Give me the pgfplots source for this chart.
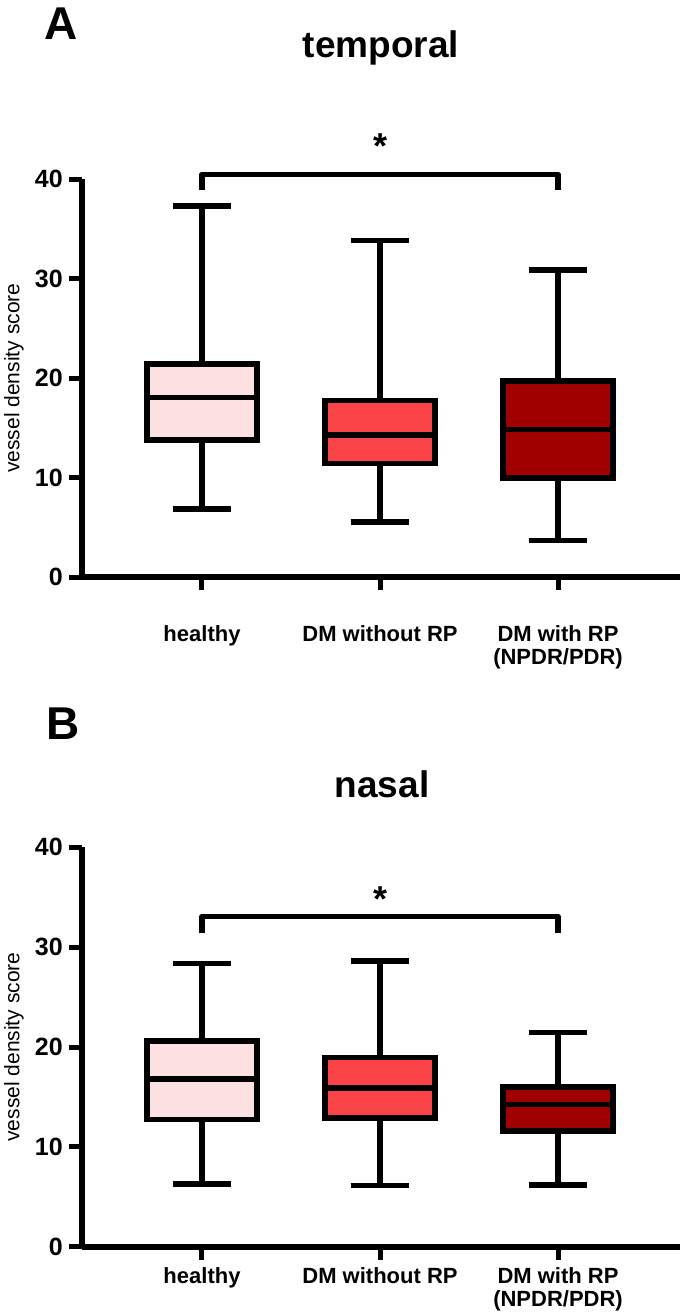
\documentclass[border=0pt]{standalone}
\usepackage{pgfplots}
\pgfplotsset{compat=1.18}
\usepgfplotslibrary{statistics}
\usepackage{fontspec}
\setmainfont{Liberation Sans}
\definecolor{cHealthy}{HTML}{FDE0E1}
\definecolor{cWithout}{HTML}{F94346}
\definecolor{cWith}{HTML}{A00000}
\pgfplotsset{
  panel/.style={
    scale only axis, width=598pt,
    xmin=0.326, xmax=3.685, ymin=0, ymax=40,
    axis lines=left,
    axis line style={-, line width=6pt, black},
    xtick={1,2,3}, ytick={0,10,20,30,40},
    tick align=outside, major tick length=13pt,
    every tick/.style={black, line width=5pt},
    /pgf/number format/assume math mode=true,
    yticklabel style={font=\fontsize{25}{25}\selectfont\bfseries, inner sep=0pt, anchor=east, xshift=-6pt},
    xticklabels={healthy, DM without RP, {DM with RP\\(NPDR/PDR)}},
    ylabel={vessel density score},
    every axis y label/.style={at={(axis description cs:-0.114,0.5)}, rotate=90, anchor=center, font=\fontsize{21}{21}\selectfont},
    clip=false,
    boxplot/draw direction=y,
  },
  bx/.style={line width=5.5pt, draw=black, solid, mark=none},
}
\begin{document}
\begin{tikzpicture}
\useasboundingbox (0pt,0pt) rectangle (686pt,-1316pt);
\node[anchor=base west, font=\fontsize{46}{46}\selectfont\bfseries, inner sep=0pt] at (44pt,-40pt) {A};
\node[anchor=base, font=\fontsize{37}{37}\selectfont\bfseries, inner sep=0pt] at (381pt,-58pt) {temporal};
\node[anchor=base west, font=\fontsize{46}{46}\selectfont\bfseries, inner sep=0pt] at (46pt,-739pt) {B};
\node[anchor=base, font=\fontsize{37}{37}\selectfont\bfseries, inner sep=0pt] at (382pt,-797pt) {nasal};

\begin{axis}[panel, at={(82pt,-577pt)}, anchor=south west, height=397.7pt,
  xticklabel style={font=\fontsize{22}{23}\selectfont\bfseries, align=center, anchor=north, inner sep=0pt, yshift=-35pt}]
\addplot[bx, fill=cHealthy, boxplot prepared={draw position=1, lower whisker=6.85, lower quartile=13.76, median=18.05, upper quartile=21.41, upper whisker=37.3, box extend=0.62, whisker extend=0.33}] coordinates {};
\addplot[bx, fill=cWithout, boxplot prepared={draw position=2, lower whisker=5.54, lower quartile=11.41, median=14.26, upper quartile=17.75, upper whisker=33.86, box extend=0.62, whisker extend=0.33}] coordinates {};
\addplot[bx, fill=cWith, boxplot prepared={draw position=3, lower whisker=3.69, lower quartile=9.97, median=14.83, upper quartile=19.73, upper whisker=30.9, box extend=0.62, whisker extend=0.33}] coordinates {};
\draw[line width=5.5pt, line join=round] (axis cs:1,38.9) -- (axis cs:1,40.5) -- (axis cs:3,40.5) -- (axis cs:3,38.9);
\node[font=\fontsize{36}{36}\selectfont\bfseries, inner sep=0pt] at (axis cs:2,43.3) {*};
\end{axis}

\begin{axis}[panel, at={(82pt,-1246.7pt)}, anchor=south west, height=399.4pt,
  xticklabel style={font=\fontsize{22}{23}\selectfont\bfseries, align=center, anchor=north, inner sep=0pt, yshift=-8pt}]
\addplot[bx, fill=cHealthy, boxplot prepared={draw position=1, lower whisker=6.29, lower quartile=12.74, median=16.82, upper quartile=20.6, upper whisker=28.36, box extend=0.62, whisker extend=0.33}] coordinates {};
\addplot[bx, fill=cWithout, boxplot prepared={draw position=2, lower whisker=6.12, lower quartile=12.91, median=15.89, upper quartile=18.93, upper whisker=28.63, box extend=0.62, whisker extend=0.33}] coordinates {};
\addplot[bx, fill=cWith, boxplot prepared={draw position=3, lower whisker=6.19, lower quartile=11.57, median=14.25, upper quartile=15.99, upper whisker=21.44, box extend=0.62, whisker extend=0.33}] coordinates {};
\draw[line width=5.5pt, line join=round] (axis cs:1,31.4) -- (axis cs:1,33.07) -- (axis cs:3,33.07) -- (axis cs:3,31.4);
\node[font=\fontsize{36}{36}\selectfont\bfseries, inner sep=0pt] at (axis cs:2,34.85) {*};
\end{axis}
\end{tikzpicture}
\end{document}
